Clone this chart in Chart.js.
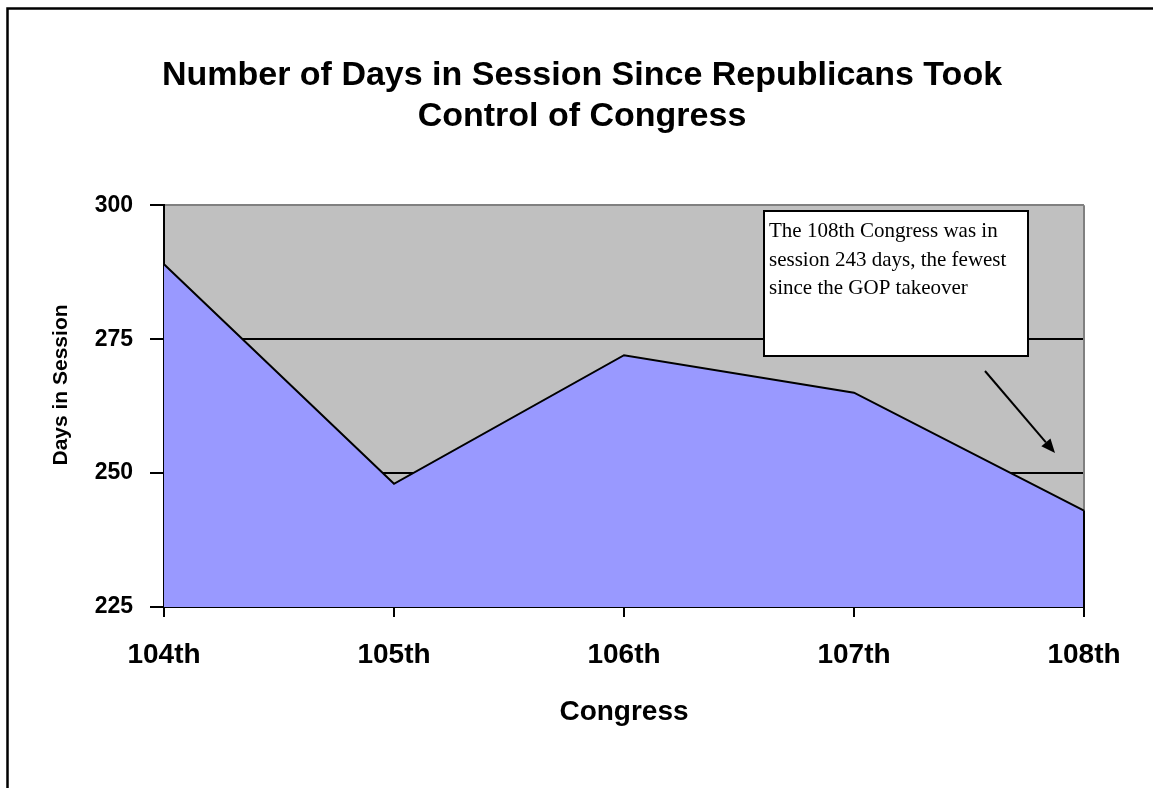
<!DOCTYPE html>
<html>
<head>
<meta charset="utf-8">
<script src="https://cdn.jsdelivr.net/npm/chart.js@4/dist/chart.umd.min.js"></script>
<style>
  html, body { margin: 0; padding: 0; background: #ffffff; }
  #wrap { width: 1153px; height: 788px; }
</style>
</head>
<body>
<div id="wrap"><canvas id="c" width="1153" height="788"></canvas></div>
<script>
// Congress sessions and the number of days each was in session
const congresses = ['104th', '105th', '106th', '107th', '108th'];
const daysInSession = [289, 248, 272, 265, 243];
const yTicks = [225, 250, 275, 300];
const titleLines = ['Number of Days in Session Since Republicans Took', 'Control of Congress'];
const noteLines = ['The 108th Congress was in', 'session 243 days, the fewest', 'since the GOP takeover'];

const SANS = '"Liberation Sans", Arial, sans-serif';
const SERIF = '"Liberation Serif", "Times New Roman", serif';

// Outer frame, grey plot background, callout box and arrow, y-axis title
const decor = {
  id: 'decor',
  beforeDraw(chart) {
    const { ctx, chartArea: a } = chart;
    ctx.save();
    ctx.fillStyle = '#ffffff';
    ctx.fillRect(0, 0, chart.width, chart.height);
    ctx.strokeStyle = '#000000';
    ctx.lineWidth = 2.5;
    ctx.beginPath();
    ctx.moveTo(7.5, chart.height + 5);
    ctx.lineTo(7.5, 8.5);
    ctx.lineTo(chart.width + 5, 8.5);
    ctx.stroke();
    ctx.fillStyle = '#C0C0C0';
    ctx.fillRect(a.left, a.top, a.right - a.left, a.bottom - a.top);
    ctx.restore();
  },
  beforeDatasetsDraw(chart) {
    const { ctx, chartArea: a } = chart;
    ctx.save();
    ctx.strokeStyle = '#808080';
    ctx.lineWidth = 2;
    ctx.beginPath();
    ctx.moveTo(a.right, a.bottom);
    ctx.lineTo(a.right, a.top);
    ctx.stroke();
    ctx.restore();
  },
  afterDatasetsDraw(chart) {
    // closing edge of the area series at the last category
    const { ctx, chartArea: a, scales } = chart;
    const last = daysInSession.length - 1;
    const x = scales.x.getPixelForValue(last);
    const y = scales.y.getPixelForValue(daysInSession[last]);
    ctx.save();
    ctx.strokeStyle = '#000000';
    ctx.lineWidth = 2;
    ctx.beginPath();
    ctx.moveTo(x, y);
    ctx.lineTo(x, a.bottom);
    ctx.stroke();
    ctx.restore();
  },
  afterDraw(chart) {
    const { ctx } = chart;
    ctx.save();
    // callout box
    ctx.fillStyle = '#ffffff';
    ctx.fillRect(764, 211, 264, 145);
    ctx.strokeStyle = '#000000';
    ctx.lineWidth = 2;
    ctx.strokeRect(764, 211, 264, 145);
    ctx.fillStyle = '#000000';
    ctx.font = '21px ' + SERIF;
    ctx.textAlign = 'left';
    ctx.textBaseline = 'alphabetic';
    noteLines.forEach((t, i) => ctx.fillText(t, 769, 237 + i * 28.5));
    // arrow pointing toward the 108th Congress
    const x0 = 985, y0 = 371, x1 = 1055, y1 = 453;
    const ang = Math.atan2(y1 - y0, x1 - x0);
    const hl = 14, hw = 6;
    const bx = x1 - hl * Math.cos(ang), by = y1 - hl * Math.sin(ang);
    ctx.lineWidth = 2;
    ctx.beginPath();
    ctx.moveTo(x0, y0);
    ctx.lineTo(bx, by);
    ctx.stroke();
    ctx.beginPath();
    ctx.moveTo(x1, y1);
    ctx.lineTo(bx + hw * Math.sin(ang), by - hw * Math.cos(ang));
    ctx.lineTo(bx - hw * Math.sin(ang), by + hw * Math.cos(ang));
    ctx.closePath();
    ctx.fill();
    // y-axis title
    ctx.translate(61, 385);
    ctx.rotate(-Math.PI / 2);
    ctx.font = 'bold 21px ' + SANS;
    ctx.textAlign = 'center';
    ctx.textBaseline = 'middle';
    ctx.fillText('Days in Session', 0, 0);
    ctx.restore();
  }
};

new Chart(document.getElementById('c'), {
  type: 'line',
  data: {
    labels: congresses,
    datasets: [{
      label: 'Days in Session',
      data: daysInSession,
      backgroundColor: '#9999FF',
      borderColor: '#000000',
      borderWidth: 2,
      fill: 'start',
      tension: 0,
      pointRadius: 0,
      pointHoverRadius: 0,
      clip: false
    }]
  },
  options: {
    responsive: false,
    animation: false,
    events: [],
    layout: { padding: { left: 11, right: 0, top: 0, bottom: 0 } },
    plugins: {
      legend: { display: false },
      tooltip: { enabled: false },
      title: {
        display: true,
        text: titleLines,
        color: '#000000',
        font: { family: SANS, size: 34, weight: 'bold', lineHeight: 1.18 },
        padding: { top: 56, bottom: 69 }
      }
    },
    scales: {
      x: {
        type: 'category',
        offset: false,
        afterFit(s) { s.height = 181; },
        border: { display: true, color: '#000000', width: 2 },
        grid: { drawOnChartArea: false, drawTicks: true, tickLength: 10, color: '#000000', lineWidth: 2 },
        ticks: {
          color: '#000000',
          padding: 21,
          maxRotation: 0,
          autoSkip: false,
          font: { family: SANS, size: 28, weight: 'bold' }
        },
        title: {
          display: true,
          text: 'Congress',
          color: '#000000',
          font: { family: SANS, size: 28, weight: 'bold', lineHeight: 1.2 },
          padding: { top: 59, bottom: 59 }
        }
      },
      y: {
        min: 225,
        max: 300,
        afterFit(s) { s.width = 153; },
        afterBuildTicks(s) { s.ticks = yTicks.map(v => ({ value: v })); },
        border: { display: true, color: '#000000', width: 2 },
        grid: {
          drawTicks: true,
          tickLength: 14,
          tickColor: '#000000',
          lineWidth: 2,
          color: ctx => (ctx.tick && ctx.tick.value === 300 ? '#808080' : '#000000')
        },
        ticks: {
          color: '#000000',
          padding: 17,
          font: { family: SANS, size: 23, weight: 'bold' }
        }
      },
      // empty margin to the right of the plot
      gap: {
        type: 'linear',
        position: 'right',
        display: true,
        afterFit(s) { s.width = 69; },
        border: { display: false },
        grid: { display: false, drawTicks: false },
        ticks: { display: false }
      }
    }
  },
  plugins: [decor]
});
</script>
</body>
</html>
